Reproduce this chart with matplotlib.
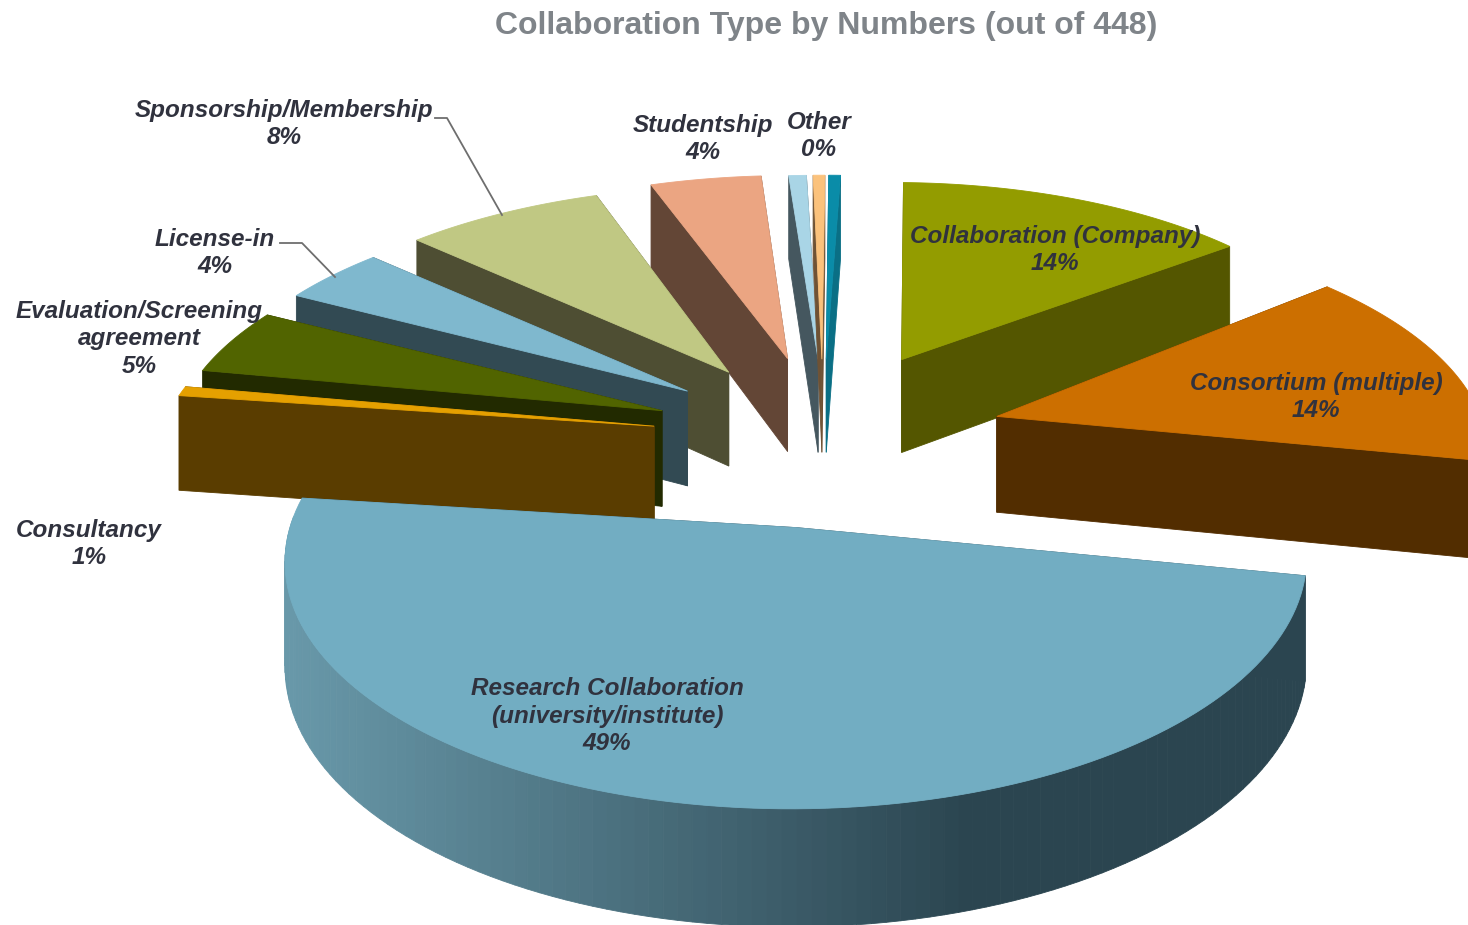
import numpy as np
import matplotlib
matplotlib.use('Agg')
import matplotlib.pyplot as plt
from matplotlib.colors import to_rgb
from matplotlib.patches import Polygon

# clockwise from 12 o'clock, counts out of 448
names = ['Collaboration (Company)', 'Consortium (multiple)', 'Research Collaboration\n(university/institute)',
         'Consultancy', 'Evaluation/Screening\nagreement', 'License-in', 'Sponsorship/Membership',
         'Studentship', '', '', 'Other']
counts = [63, 64, 219, 3, 21, 18, 34, 19, 3, 2, 2]
total = 448

top_colors = ['#939C00', '#CC6F00', '#72ADC2', '#E5A000', '#516400', '#7FB8CE', '#C0C883', '#EBA582',
              '#A9D5E6', '#FBC27C', '#0A8CA8']
side_colors = ['#545600', '#522D00', '#2B4550', '#5A3D00', '#222A00', '#324A53', '#4E4E33', '#634636',
               '#45575F', '#6F5234', '#0A6F85']
explode = [0.40, 0.40, 0.46, 0.36, 0.36, 0.33, 0.33, 0.36, 0.33, 0.33, 0.33]
radius = [0.965, 1, 0.975, 1.01, 1, 1, 1, 1, 1, 1, 1]
# small per slice corrections: degrees, then pixels
turn = [-1.5, 0.5, 1, 0, -0.5, -1, -1.5, -1.5, -1.5, -2, -2]
nudge = [(-3, 6), (-11, 8), (14, -10), (7, 9), (6, 7), (-4, 3), (-6, 2), (2, 4), (6, 0), (3, 0), (3, 0)]
# painter's order, back to front
draw_order = [8, 9, 10, 7, 6, 0, 5, 4, 3, 1, 2]

# label anchors in pixels
label_pos = [(1055, 250), (1316, 397), (607, 716), (89, 544), (139, 339), (215, 253), (284, 124),
             (703, 139), None, None, (819, 136)]

# perspective
cx, cy = 820, 430
R0 = 490
q = 0.456
p = 0.125
h0 = 97


def project(x, y, z=0.0, shift=(0, 0)):
    w = 1 + p * y
    return cx + R0 * x / w + shift[0], cy - R0 * q * y / w + h0 * z / w + shift[1]


fig = plt.figure(figsize=(14.68, 9.25), dpi=100)
ax = fig.add_axes([0, 0, 1, 1])
ax.set_xlim(0, 1468)
ax.set_ylim(925, 0)
ax.axis('off')

angles = 90 - 360 * np.cumsum([0] + counts) / total


def poly(pts, color):
    ax.add_patch(Polygon(pts, closed=True, facecolor=color, edgecolor=color, linewidth=0.6))


for i in draw_order:
    a2, a1 = np.radians(angles[i] + turn[i]), np.radians(angles[i + 1] + turn[i])
    mid = (a1 + a2) / 2
    ox, oy = explode[i] * np.cos(mid), explode[i] * np.sin(mid)
    t = np.linspace(a1, a2, 120)
    rx, ry = ox + radius[i] * np.cos(t), oy + radius[i] * np.sin(t)
    s = nudge[i]

    top = [project(ox, oy, 0, s)] + [project(x, y, 0, s) for x, y in zip(rx, ry)]
    # cut faces
    for k in (0, -1):
        poly([project(ox, oy, 0, s), project(rx[k], ry[k], 0, s), project(rx[k], ry[k], 1, s),
              project(ox, oy, 1, s)], side_colors[i])
    # rim, only the part that faces the viewer
    for k in range(len(t) - 1):
        if np.sin(t[k]) < 0.02 or np.sin(t[k + 1]) < 0.02:
            sx = project(rx[k], ry[k], 0, s)[0]
            c = side_colors[i]
            if i == 2:
                f = np.clip((sx - 290) / (960 - 290), 0, 1)
                c = (1 - f) * np.array(to_rgb('#6898A9')) + f * np.array(to_rgb('#2B4550'))
            poly([project(rx[k], ry[k], 0, s), project(rx[k + 1], ry[k + 1], 0, s),
                  project(rx[k + 1], ry[k + 1], 1, s), project(rx[k], ry[k], 1, s)], c)
    poly(top, top_colors[i])

# leader lines
ax.plot([435, 447, 502], [118, 118, 215], color='#6E6E6E', lw=1.3, zorder=5)
ax.plot([280, 302, 335], [243, 243, 277], color='#6E6E6E', lw=1.3, zorder=5)

for i, name in enumerate(names):
    if label_pos[i] is None:
        continue
    pct = round(100 * counts[i] / total)
    ax.text(label_pos[i][0], label_pos[i][1], '%s\n%d%%' % (name, pct), ha='center', va='center',
            family='Liberation Sans', weight='bold', style='italic', fontsize=17.5, color='#30323E',
            linespacing=1.27, zorder=6)

ax.text(826, 26, 'Collaboration Type by Numbers (out of 448)', ha='center', va='center',
        family='Liberation Sans', weight='bold', fontsize=23, color='#7F8489', zorder=6)

fig.savefig('out.png', dpi=100)
